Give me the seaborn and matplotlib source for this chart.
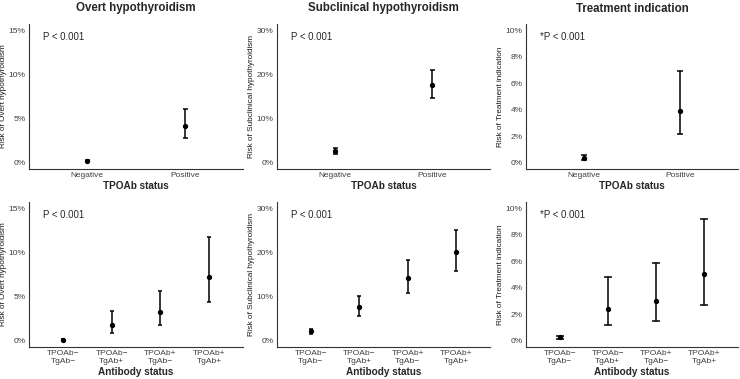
import matplotlib
matplotlib.use("Agg")
import matplotlib.pyplot as plt
from matplotlib.ticker import PercentFormatter
import seaborn as sns
import pandas as pd
import numpy as np

# categories
tpo_groups = ["Negative", "Positive"]
ab_groups = ["TPOAb\u2212\nTgAb\u2212", "TPOAb\u2212\nTgAb+", "TPOAb+\nTgAb\u2212", "TPOAb+\nTgAb+"]

# risk (%) with lower / upper CI
overt_tpo = [0.15, 4.14]
overt_tpo_lo = [0.08, 2.77]
overt_tpo_hi = [0.24, 6.10]

sub_tpo = [2.56, 17.7]
sub_tpo_lo = [2.0, 14.7]
sub_tpo_hi = [3.2, 21.1]

treat_tpo = [0.33, 3.9]
treat_tpo_lo = [0.18, 2.14]
treat_tpo_hi = [0.55, 6.97]

overt_ab = [0.10, 1.74, 3.18, 7.23]
overt_ab_lo = [0.05, 0.87, 1.74, 4.32]
overt_ab_hi = [0.18, 3.37, 5.60, 11.78]

sub_ab = [2.05, 7.5, 14.1, 20.1]
sub_ab_lo = [1.5, 5.5, 10.8, 15.7]
sub_ab_hi = [2.7, 10.2, 18.2, 25.2]

treat_ab = [0.23, 2.40, 2.99, 5.04]
treat_ab_lo = [0.10, 1.16, 1.49, 2.71]
treat_ab_hi = [0.35, 4.83, 5.85, 9.24]

titles = ["Overt hypothyroidism", "Subclinical hypothyroidism", "Treatment indication"]
ylabels = ["Risk of Overt hypothyroidism", "Risk of Subclinical hypothyroidism",
           "Risk of Treatment indication"]
ptexts = ["P < 0.001", "P < 0.001", "*P < 0.001"]
ymax = [15, 30, 10]
ystep = [5, 10, 2]

sns.set_style("white")
plt.rcParams["font.family"] = ["Liberation Sans", "DejaVu Sans"]

W, H = 740, 379
fig = plt.figure(figsize=(W / 100, H / 100), dpi=100)


def rect(x0, x1, ytop, ybot):
    return [x0 / W, 1 - ybot / H, (x1 - x0) / W, (ybot - ytop) / H]


cols = [(29, 243), (277, 490), (526, 738)]
rows = [(24, 169), (202, 347)]

top_data = [(overt_tpo, overt_tpo_lo, overt_tpo_hi),
            (sub_tpo, sub_tpo_lo, sub_tpo_hi),
            (treat_tpo, treat_tpo_lo, treat_tpo_hi)]
bot_data = [(overt_ab, overt_ab_lo, overt_ab_hi),
            (sub_ab, sub_ab_lo, sub_ab_hi),
            (treat_ab, treat_ab_lo, treat_ab_hi)]
caps_top = [1.8, 1.8, 2.5]
caps_bot = [1.5, 1.5, 3.2]

for r, (groups, datasets, caps, xlab) in enumerate([
        (tpo_groups, top_data, caps_top, "TPOAb status"),
        (ab_groups, bot_data, caps_bot, "Antibody status")]):
    for c in range(3):
        ax = fig.add_axes(rect(*cols[c], *rows[r]))
        est, lo, hi = datasets[c]
        df = pd.DataFrame({"group": groups, "risk": est, "lo": lo, "hi": hi})
        xs = np.arange(len(groups))
        ax.errorbar(xs, df["risk"], yerr=[df["risk"] - df["lo"], df["hi"] - df["risk"]],
                    fmt="none", ecolor="black", elinewidth=1.1, capsize=caps[c],
                    capthick=1.1, zorder=2)
        sns.pointplot(data=df, x="group", y="risk", order=groups, errorbar=None,
                      linestyle="none", color="black", markersize=3.0,
                      markeredgewidth=0.8, ax=ax, zorder=3)
        n = len(groups)
        pad = 0.6 if n == 2 else 0.7
        ax.set_xlim(-pad, n - 1 + pad)
        m = ymax[c]
        ax.set_ylim(-0.05 * m, 1.05 * m)
        ax.set_yticks(np.arange(0, m + 0.01, ystep[c]))
        ax.yaxis.set_major_formatter(PercentFormatter(xmax=100, decimals=0))
        ax.tick_params(axis="both", labelsize=6.0, labelcolor="#404040", length=1.6,
                       width=0.6, color="#333333", pad=0.8)
        for s in ["top", "right"]:
            ax.spines[s].set_visible(False)
        for s in ["left", "bottom"]:
            ax.spines[s].set_color("#333333")
            ax.spines[s].set_linewidth(0.8)
        ax.set_ylabel(ylabels[c], fontsize=5.9, color="#1A1A1A", labelpad=1.0)
        ax.set_xlabel(xlab, fontsize=7.2, fontweight="bold", labelpad=1)
        if r == 0:
            ax.set_title(titles[c], fontsize=8.3, fontweight="bold", pad=9)
        ax.text(0.065, 0.91, ptexts[c], transform=ax.transAxes, fontsize=6.9,
                ha="left", va="center")

fig.savefig("out.png", dpi=100)
